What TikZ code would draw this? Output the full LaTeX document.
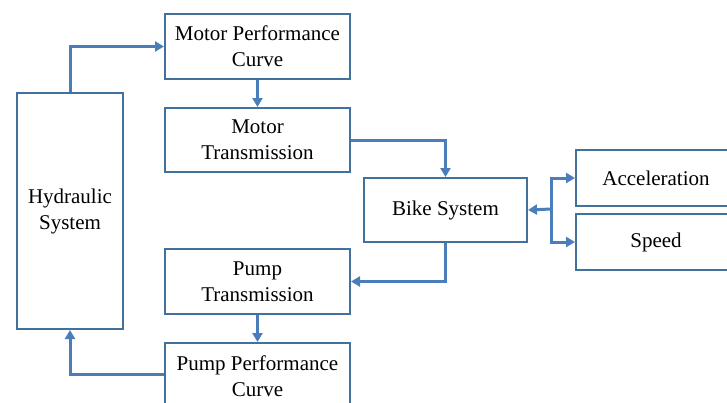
\documentclass[tikz,border=0pt]{standalone}
\usepackage{fontspec}
\setmainfont{Liberation Serif}
\usetikzlibrary{arrows.meta}
\definecolor{boxc}{RGB}{65,113,156}
\definecolor{arrc}{RGB}{74,126,187}
\tikzset{
  blk/.style={draw=boxc, line width=2pt, fill=white, inner sep=0pt, align=center, font=\fontsize{21}{26}\selectfont, anchor=north west},
  con/.style={draw=arrc, line width=3pt, -{Triangle[length=9pt,width=10pt]}}
}
\begin{document}
\begin{tikzpicture}[x=1pt,y=-1pt]
\useasboundingbox (0,0) rectangle (727,402);
\clip (0,0) rectangle (727,402);
\fill[white] (0,0) rectangle (727,402);
\node[blk, minimum width=106pt, minimum height=236pt] (hyd) at (16,92) {Hydraulic\\System};
\node[blk, minimum width=185pt, minimum height=65pt] (mpc) at (164,13) {Motor Performance\\Curve};
\node[blk, minimum width=185pt, minimum height=64pt] (mt) at (164,107) {Motor\\Transmission};
\node[blk, minimum width=163pt, minimum height=64pt] (bike) at (363,177) {Bike System};
\node[blk, minimum width=160pt, minimum height=56pt] (acc) at (575,149) {Acceleration};
\node[blk, minimum width=160pt, minimum height=56pt] (spd) at (575,213) {Speed};
\node[blk, minimum width=185pt, minimum height=65pt] (pt) at (164,248) {Pump\\Transmission};
\node[blk, minimum width=185pt, minimum height=66pt] (ppc) at (164,342) {Pump Performance\\Curve};
\coordinate (j) at (551,209);
\draw[con] (hyd.north) |- (mpc.west);
\draw[con] (mpc.south) -- (mt.north);
\draw[con] (mt.east) -| (bike.north);
\draw[con] (bike.south) |- (pt.east);
\draw[con] (pt.south) -- (ppc.north);
\draw[con] (ppc.west |- 0,374) -| (hyd.south);
\draw[con] (j) -- (bike.east);
\draw[con] (j) |- (acc.west);
\draw[con] (j) |- (spd.west);
\end{tikzpicture}
\end{document}
